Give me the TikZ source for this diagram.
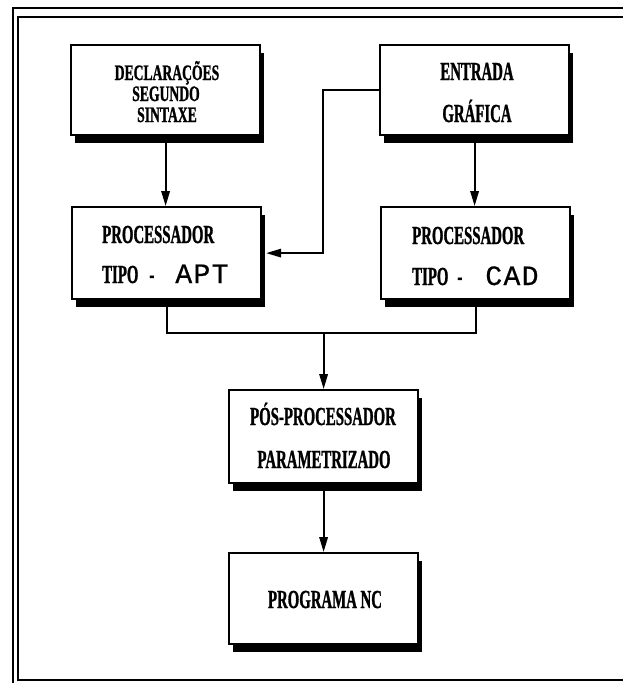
\documentclass[tikz,border=0pt]{standalone}
\usepackage{fontspec}
\usetikzlibrary{arrows.meta,calc}
\newfontfamily\labfont{Liberation Serif}[FakeStretch=0.57, FakeBold=1]
\newfontfamily\decfont{Liberation Serif}[FakeStretch=0.62, FakeBold=1]
\newfontfamily\mfont{Liberation Mono}[LetterSpace=5, FakeBold=0.6]
\newcommand{\mtxt}[1]{{\mfont\mdseries\fontsize{28}{28}\selectfont #1}}
\tikzset{
  box/.style={draw, line width=2.2pt, fill=white, minimum width=189pt, inner sep=0pt, anchor=north west,
    preaction={fill=black, transform canvas={xshift=4pt, yshift=-8pt}}},
  conn/.style={line width=1.8pt},
  arr/.style={conn, -{Triangle[length=15pt, width=8.5pt]}},
  lab/.style={font=\labfont\bfseries\fontsize{26}{26}\selectfont, inner sep=0pt, anchor=base},
  labs/.style={lab, font=\decfont\bfseries\fontsize{22}{22}\selectfont},
  frameline/.style={line width=2.4pt}
}
\begin{document}
\begin{tikzpicture}[x=1pt, y=-1pt]
\useasboundingbox[fill=white] (0,0) rectangle (623,683);
% frame
\draw[frameline] (623,8) -- (13,8) -- (13,683);
\draw[frameline] (623,17) -- (18,17) -- (18,680) -- (623,680);
% boxes
\node[box, minimum height=90pt] (decl) at (70,44) {};
\node[box, minimum height=90pt] (entr) at (379,44) {};
\node[box, minimum height=92pt] (apt) at (71,206) {};
\node[box, minimum height=92pt] (cad) at (380,206) {};
\node[box, minimum height=93pt] (pos) at (228,389) {};
\node[box, minimum height=91pt] (prog) at (228,552) {};
% texts
\node[labs] (d1) at (167,80) {DECLARAÇÕES};
\node[labs] (d2) at (166,101) {SEGUNDO};
\node[labs] (d3) at (167,122) {SINTAXE};
\node[lab] (e1) at (477,80) {ENTRADA};
\node[lab] (e2) at (477,122) {GRÁFICA};
\node[lab, anchor=base west] (a1) at (102,243) {PROCESSADOR};
\node[lab, anchor=base west] (a2) at (102,283) {TIPO\kern11pt-\kern21pt\mtxt{APT}};
\node[lab, anchor=base west] (c1) at (412,244) {PROCESSADOR};
\node[lab, anchor=base west] (c2) at (412,285) {TIPO\kern9pt-\kern23pt\mtxt{CAD}};
\node[lab] (p1) at (323,425) {PÓS-PROCESSADOR};
\node[lab] (p2) at (324,468) {PARAMETRIZADO};
\node[lab] (g1) at (325,608) {PROGRAMA NC};
% connectors
\draw[arr] (decl.south) -- (decl.south |- apt.north);
\draw[arr] (entr.south) -- (entr.south |- cad.north);
\draw[arr, shorten >=4pt] (entr.west) -- ++(-56,0) |- (apt.east);
\coordinate (m) at ($(pos.north)+(0,-56)$);
\draw[conn] (apt.south) |- (m) -| (cad.south);
\draw[arr] (m) -- (pos.north);
\draw[arr] (pos.south) -- (prog.north);
\end{tikzpicture}
\end{document}
